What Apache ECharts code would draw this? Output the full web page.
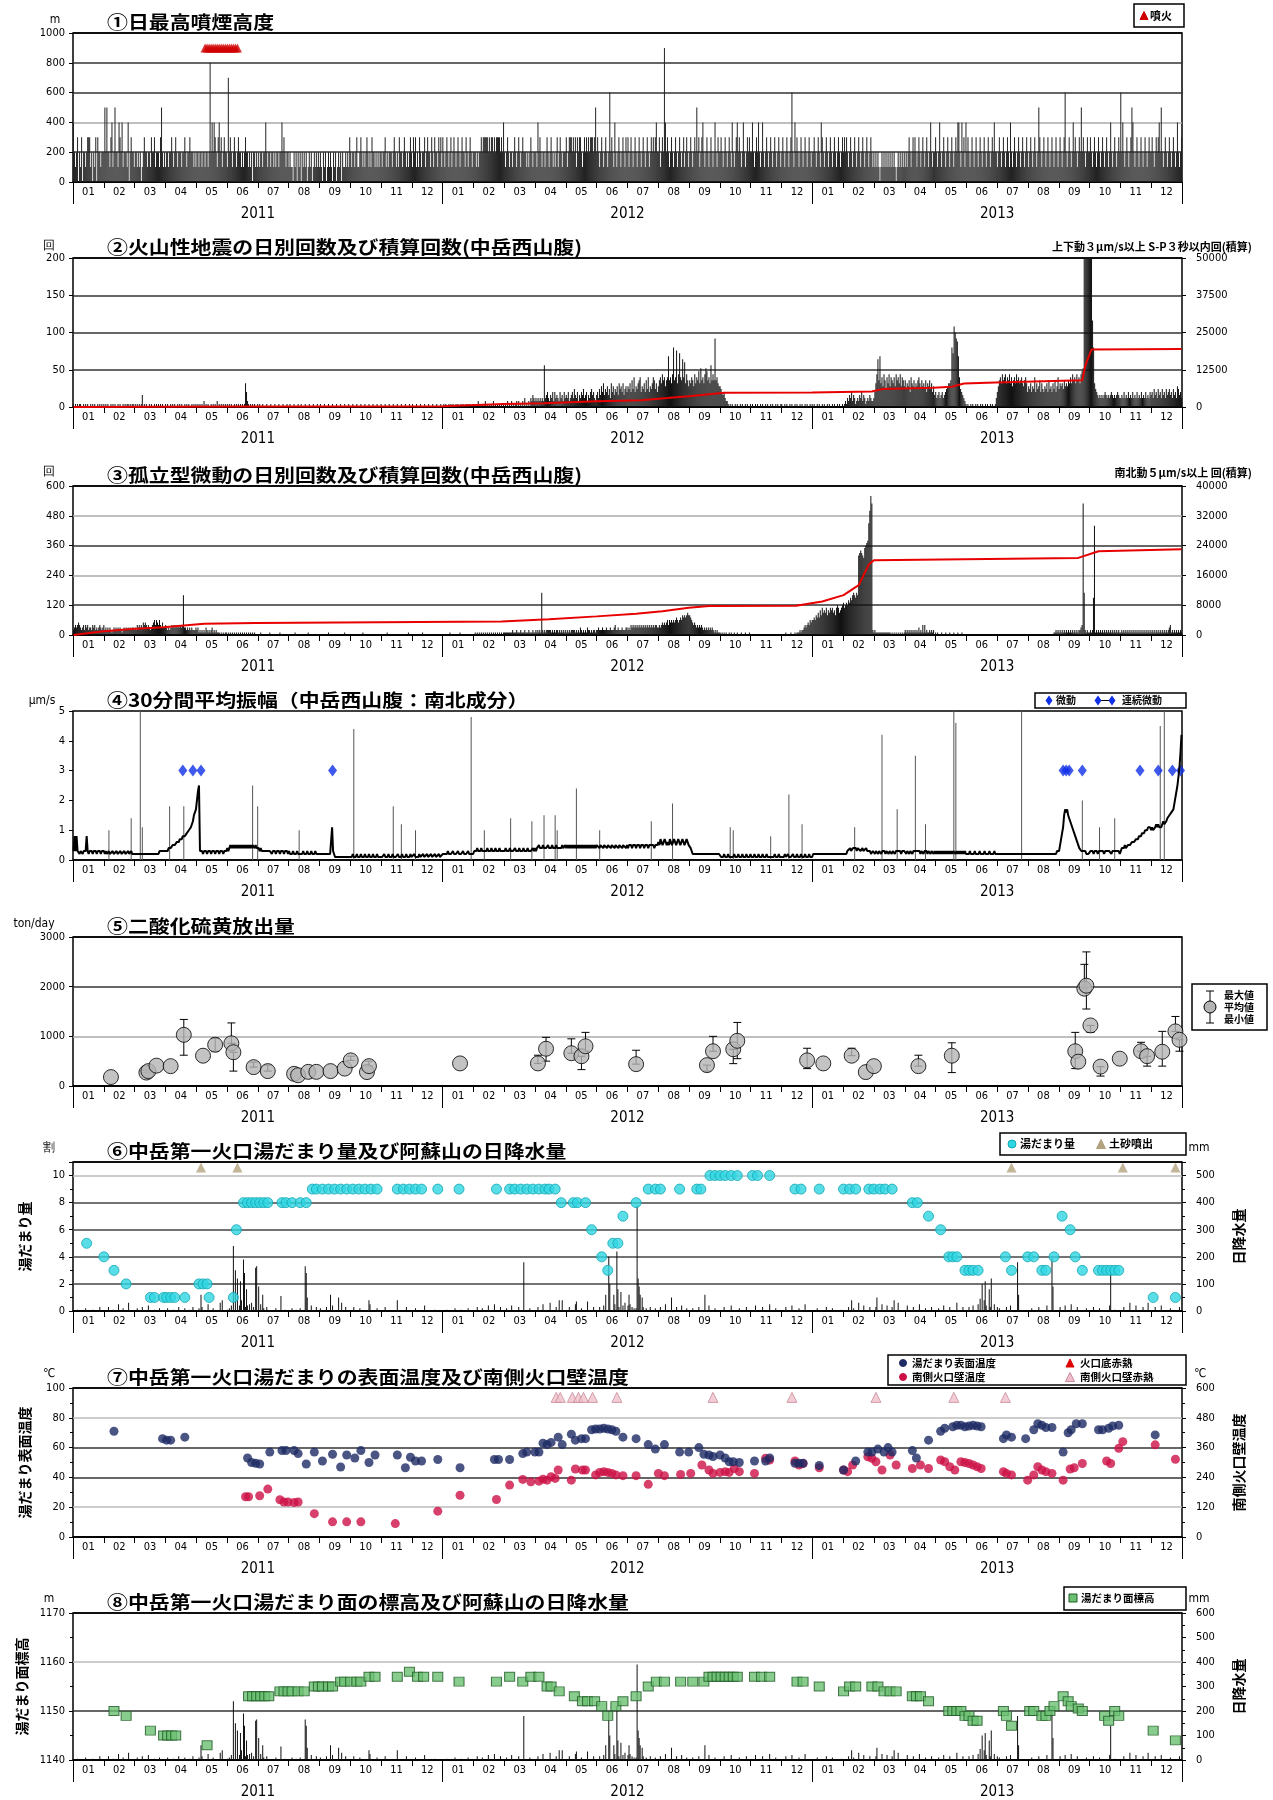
<!DOCTYPE html>
<html><head><meta charset="utf-8">
<script src="https://cdn.jsdelivr.net/npm/echarts/dist/echarts.min.js"></script>
<style>html,body{margin:0;padding:0;background:#fff}#c{width:1273px;height:1800px}</style>
</head><body><div id="c"></div>
<script>
// ---------- categories / tick labels ----------
const monthLabels = ['01','02','03','04','05','06','07','08','09','10','11','12'];
const yearLabels = ['2011','2012','2013'];

// ---------- daily series, one string per month (2011-01 .. 2013-12), one char per day ----------
// ① plume height, unit 100 m
const plumeHeight = [
"4212302130221233312021303221222","5252213412522143241222140232","2122121201232212213223122213521","212212232123212221223212232221",
"2122122122122128242432134231232","217232123212322121232212120221","2121221224212212212122122423212","2121102120212021212012120121212",
"121021201212102120121202112121","3212212311232121232121322121212","212231212221232121322123212123","2132312132122312322132132213231",
"3212321231232123212322132123212","22121223233333232332323333232","4212321221232123212322212123212","221423212212321232121231232122",
"2312333232313233212323232333235","232123212321262321421232123213","2312321232123212321232123232342","2312329423212321232123212312321",
"232123252312342123212321242132","2321232123214212342321242123232","242123242124212321232123212321","2321232123621423212321232123212",
"2321232143212321232123212321232","3232123212321232123212321232","1212121012121212121212101212121","2121232123232123212321232124212",
"2321242123212321232123244214231","423212321232123212321232123242","2123212321232142123212321232123","2123212321253212321232123212321",
"232123621232124232123252321232","2321232123212321232124212321232","624212321235421232123212321232","2321232342521232123212321242123"];
const eruptionDates = ["2011-05-11","2011-05-13","2011-05-15","2011-05-17","2011-05-19","2011-05-21","2011-05-23","2011-05-25","2011-05-27","2011-05-29","2011-05-31","2011-06-02","2011-06-04","2011-06-06","2011-06-08","2011-06-10","2011-06-12"];

// ② volcanic earthquakes per day, unit 4
const quakeDaily = [
"1010101100101010010101001010101","0101001010100101001010110101","1010101014010100101001010101010","010100101010010101001010100101",
"0101010102010100101010201010101","010101001010101010185210101010","0101001000100010001000100010001","0010001000100100010001000100010",
"010001000100010001000100010001","0001000100010001000100010001000","100010001000100010001000100010","0100010001000100010001000100010",
"0101001010100101001010010101001","10102010101201010102010101010","1010201020101202010203010203243","232323232e3453243525343253425",
"3435234536435243546345243564532","4536475846574638574657486758467","5768596a57689a5768596a5768a9685","79a8b9a79ah9a8bk9aj8bia9gaf8b97",
"98a97b8a9c8d9a8bdc9a8e9b9n9a87","7654532210101001010010100101001","010010100101001010010100101001","1001010010100101001010010100101",
"0100101001010010100101001010010","1213243524312324352431232432","2358bg9h8a7b96a8b7a98a7b9a8b7a9","7968795a8796879a869786958796857",
"4534534534567889kirpnmha65432","1010010100101001010010100101001","3579a8b9ab8a9b8a79a8b9a89a879a8","5768576a5867958657685967586957a",
"68786978798a8b9a8b9a8bcdZZZZZ","ZZZtk8654343434543434543434543","3435343534353435343534353435","4536453645364536456453645376453"];
const quakeCumDates = ["2011-01-01","2011-06-15","2012-01-01","2012-03-01","2012-04-10","2012-06-01","2012-07-15","2012-08-10","2012-08-31","2012-09-20","2012-10-05","2012-12-31","2013-02-28","2013-03-10","2013-04-30","2013-05-18","2013-05-30","2013-06-30","2013-09-24","2013-09-27","2013-10-03","2013-12-31"];
const quakeCum = [0,150,250,1000,1300,1900,2300,3000,3600,4300,4800,4900,5200,6000,6500,6800,7900,8200,9000,14000,19300,19500];

// ③ isolated tremor per day, unit 10
const tremorDaily = [
"2343454323424342332434232343234","2323232123232323212323232323","3232434343545434323456465464353","343232343434343434g3323232322",
"2323121212132121231212111010101","101010101010101010101010101010","0000100000000100000000010000000","0000000100000000000010000000000",
"000000000100000000000000010000","0000000000000100000000000000000","000000100000000000000000000100","0000000000010000000000000000000",
"0000000100000000010000000000000","01010101010101010101010101010","1111111112111211121112111211121","1212121h21212222212121221212121",
"2121212222121213212121322121221","2232223222322232223422322232223","3232434343434343434343434343443","3434545456465656567656768787898",
"8765454343434323232323232121211","1010101001010010010001000100010","000000000000000000000000000000","0000100001000101112122343454656",
"6768797a8b9a9b8a9bab9a8bcb9abcd","bcdcedfeghgfhgwxyxwvzABCJOUR","2121111111111111110101010101010","1212121212121213121414121121212",
"0101000100010001000100010001000","000000000000000000000000000000","0000000000000000000000000000000","0000000000000000000000000011212",
"12121212121212121212234Rh2121","1212fI1212121212121212121212121","121212121212121212121212121212","1212121212121212123412121212121"];
const tremorCumDates = ["2011-01-01","2011-01-31","2011-02-28","2011-03-31","2011-05-10","2011-06-30","2012-02-28","2012-04-15","2012-06-01","2012-07-10","2012-08-05","2012-08-31","2012-09-20","2012-12-15","2013-01-10","2013-01-31","2013-02-15","2013-02-25","2013-03-02","2013-09-20","2013-10-10","2013-12-31"];
const tremorCum = [0,1000,1600,2100,3000,3250,3600,4200,5000,5700,6400,7300,7800,7850,9000,10700,13400,18900,20100,20700,22500,23000];

// ④ 30-min mean amplitude: daily background level, unit 0.1 µm/s, plus short spikes
const amplitude = [
"3838332332333832333233323332333","23223222322232223222322232232","2222222222222222222222222233333","333344445555666777888899aabcdf",
"ghknp33323332333233323332333233","343454545454545454545454545545","4443433333333332333233323332333","2322232223222223222322232223222",
"2222222222222b32111111111111111","1112111211121112111211121112111","11121112111211112111211121112","11121111211121112111211121112111",
"2222232222322223222232222322222","33343334333334333433343334333","334333433334333433343334333343","434454445444454445444544444544",
"545454545454545454545454545454","55545554555455545554555455545554","5455545554555455545554555554555","657656765657656765676567656765",
"5432222222222222222222222222222","2111211121111121112111211121112","111211121112111211111112111211","1112112111121112111211121112111",
"2222222222222222222222222222222","222333433444434443343334333322","332332332333233233233233333233","332332332333333323323332332332",
"323232323232323232332323232323","2222322223222232222322223222232","2222222222222222222222222222222","2222222222222222222222222222233",
"3579bfhghfedcba987654433333222","233323332333332333333233333332","344454455556666777888999aaabbb","abaabcbcbbbcdccdeeffgghjlnpsvAG"];
const ampSpikeDates = ["2011-02-05","2011-02-27","2011-03-08","2011-03-10","2011-04-06","2011-04-20","2011-06-27","2011-07-02","2011-08-12","2011-10-05","2011-11-13","2011-11-21","2011-12-05",
"2012-01-29","2012-02-11","2012-03-08","2012-03-29","2012-04-10","2012-04-21","2012-04-23","2012-05-12","2012-06-04","2012-07-25","2012-08-15","2012-10-11","2012-10-14","2012-11-20","2012-12-08","2012-12-21",
"2013-02-11","2013-03-10","2013-03-25","2013-04-12","2013-04-22","2013-05-20","2013-05-22","2013-07-26","2013-09-24","2013-10-11","2013-10-26","2013-12-10","2013-12-14"];
const ampSpike = [1.0,1.4,5.0,1.1,1.8,1.8,2.5,1.8,1.0,4.4,1.8,1.2,1.0,
4.8,1.0,1.4,1.3,1.5,1.5,1.0,2.4,1.0,1.3,1.9,1.1,1.0,0.8,2.2,1.2,
1.1,4.2,1.7,3.5,1.2,5.0,4.6,5.0,2.0,1.1,1.4,4.5,5.0];
const tremorMarkDates = ["2011-04-19","2011-04-29","2011-05-07","2011-09-14","2013-09-05","2013-09-08","2013-09-11","2013-09-24","2013-11-20","2013-12-08","2013-12-22","2013-12-30"];

// ⑤ SO2 emission (ton/day)
const so2Dates = ["2011-02-07","2011-03-14","2011-03-16","2011-03-24","2011-04-07","2011-04-20","2011-05-09","2011-05-21","2011-06-06","2011-06-08","2011-06-28","2011-07-12","2011-08-07","2011-08-11","2011-08-21","2011-08-29","2011-09-12","2011-09-26","2011-10-02","2011-10-18","2011-10-20",
"2012-01-18","2012-04-04","2012-04-12","2012-05-07","2012-05-17","2012-05-21","2012-07-10","2012-09-18","2012-09-24","2012-10-14","2012-10-18","2012-12-26",
"2013-01-11","2013-02-08","2013-02-22","2013-03-02","2013-04-15","2013-05-18","2013-09-17","2013-09-20","2013-09-26","2013-09-28","2013-10-02","2013-10-12","2013-10-31","2013-11-21","2013-11-27","2013-12-12","2013-12-25","2013-12-29"];
const so2Mean = [180,270,300,410,400,1030,610,830,860,680,380,300,245,217,285,285,300,350,516,280,400,
455,455,750,660,600,800,440,420,700,740,910,516,
455,610,280,400,400,610,700,490,1960,2020,1220,390,550,700,600,690,1100,930];
const so2Min = [null,null,null,null,null,620,null,700,null,300,null,null,null,null,null,null,null,null,null,null,null,
null,null,500,null,330,700,null,300,null,450,550,350,
null,null,null,null,null,270,350,null,null,1550,1080,200,null,null,400,400,null,700];
const so2Max = [null,320,null,null,null,1340,null,960,1270,null,480,420,null,null,null,null,null,null,600,null,500,
null,620,980,950,null,1080,720,null,1000,null,1280,760,
null,760,null,null,620,870,1080,null,2450,2700,null,null,null,880,null,1100,1400,null];

// ⑥ crater lake volume (割) and mud ejection
const lakeVolDates = ["2011-01-14","2011-01-31","2011-02-10","2011-02-22","2011-03-18","2011-03-22","2011-03-31","2011-04-03","2011-04-07","2011-04-11","2011-04-21","2011-05-05","2011-05-09","2011-05-13","2011-05-15","2011-06-08","2011-06-11","2011-06-18","2011-06-22","2011-06-26","2011-06-30","2011-07-04","2011-07-08","2011-07-12","2011-07-26","2011-07-30","2011-08-05","2011-08-13","2011-08-19","2011-08-25","2011-08-29","2011-09-04","2011-09-10","2011-09-16","2011-09-22","2011-09-28","2011-10-04","2011-10-10","2011-10-16","2011-10-22","2011-10-28","2011-11-17","2011-11-23","2011-11-29","2011-12-05","2011-12-11","2011-12-27",
"2012-01-17","2012-02-23","2012-03-07","2012-03-12","2012-03-18","2012-03-24","2012-03-30","2012-04-05","2012-04-11","2012-04-15","2012-04-21","2012-04-27","2012-05-09","2012-05-13","2012-05-21","2012-05-27","2012-06-06","2012-06-12","2012-06-17","2012-06-22","2012-06-27","2012-07-10","2012-07-22","2012-07-29","2012-08-03","2012-08-22","2012-09-08","2012-09-12","2012-09-21","2012-09-26","2012-10-01","2012-10-06","2012-10-12","2012-10-18","2012-11-02","2012-11-07","2012-11-19","2012-12-14","2012-12-20",
"2013-01-07","2013-01-31","2013-02-06","2013-02-12","2013-02-25","2013-03-02","2013-03-08","2013-03-13","2013-03-20","2013-04-09","2013-04-14","2013-04-25","2013-05-07","2013-05-15","2013-05-19","2013-05-23","2013-05-31","2013-06-04","2013-06-08","2013-06-13","2013-07-10","2013-07-16","2013-08-01","2013-08-07","2013-08-15","2013-08-19","2013-08-27","2013-09-04","2013-09-12","2013-09-17","2013-09-24","2013-10-10","2013-10-14","2013-10-18","2013-10-22","2013-10-26","2013-10-30","2013-12-03","2013-12-25"];
const lakeVol = [5,4,3,2,1,1,1,1,1,1,1,2,2,2,1,1,6,8,8,8,8,8,8,8,8,8,8,8,8,9,9,9,9,9,9,9,9,9,9,9,9,9,9,9,9,9,9,
9,9,9,9,9,9,9,9,9,9,9,8,8,8,8,6,4,3,5,5,7,8,9,9,9,9,9,9,10,10,10,10,10,10,10,10,10,9,9,
9,9,9,9,9,9,9,9,9,8,8,7,6,4,4,4,3,3,3,3,4,3,4,4,3,3,4,7,6,4,3,3,3,3,3,3,3,1,1];
const mudEjectDates = ["2011-05-07","2011-06-12","2013-07-16","2013-11-03","2013-12-25"];

// daily precipitation at Aso (mm): small rain, unit 5 mm, plus heavy-rain days
const rainSmall = [
"0000100000002000000100000030000","0000300001000005000020000060000","0000200003000004000001000020000","000200000100003000002000010030",
"0000200300000500002000000608000","010204030506040802030405060305","3040500200300000000200000000100","0000200010002000003000040000300",
"020000030000040000000060003000","0000300000200000000050000002000","000030000000000080000000030000","0000200000000400000000010000000",
"0000100000002000001000000200000","00030000200000400000500000300","0002000040000003000050000020000","000300005000000600000300000800",
"0000300000500000200000700000300","000300040000300000506030804060","0405030202040000300200030000200","0030000500000800003000040000200",
"000200000300000000040000020000","0000300000040000000200000030000","000040000003000000500000200000","0000300000400000020000050000000",
"0000200000000300000200000000100","0000300002000060000400000300","0003000005000040000300000600000","000400000300000500000200000300",
"0000200004000003000000600000300","000300040000509060804000300050","0302000000300040000000200000000","0000200000030000000400000300000",
"030000400000500000300000000200","0000300000200000000040000100000","000300000500000400000030000600","0000300000400000000200000000300"];
const rainHeavyDates = ["2011-05-07","2011-06-08","2011-06-10","2011-06-12","2011-06-15","2011-06-18","2011-06-19","2011-06-21","2011-06-30","2011-07-01","2011-07-03","2011-07-07","2011-07-25","2011-08-18","2011-08-19","2011-08-20","2011-09-12","2011-09-20","2011-10-20","2011-11-17",
"2012-03-21","2012-04-25","2012-05-12","2012-06-10","2012-06-13","2012-06-14","2012-06-18","2012-06-21","2012-06-22","2012-06-25","2012-07-03","2012-07-11","2012-07-12","2012-07-13","2012-07-14","2012-07-16","2012-08-14","2012-09-16",
"2013-02-08","2013-03-05","2013-03-22","2013-06-17","2013-06-20","2013-06-24","2013-06-26","2013-07-22","2013-07-23","2013-08-25","2013-08-26","2013-10-22","2013-11-10"];
const rainHeavy = [60,240,150,120,110,190,140,80,160,165,90,60,55,165,140,50,60,50,40,40,
180,40,35,60,200,100,60,220,80,70,60,390,120,90,60,50,50,60,
40,50,40,100,110,80,120,180,60,195,90,140,30];

// ⑦ surface temperature (℃) and south crater wall temperature (℃)
const surfTempDates = ["2011-02-10","2011-03-30","2011-04-03","2011-04-07","2011-04-21","2011-06-22","2011-06-26","2011-06-30","2011-07-04","2011-07-14","2011-07-26","2011-07-30","2011-08-07","2011-08-11","2011-08-19","2011-08-27","2011-09-04","2011-09-14","2011-09-22","2011-09-28","2011-10-06","2011-10-12","2011-10-20","2011-10-26","2011-11-17","2011-11-25","2011-11-30","2011-12-05","2011-12-11","2011-12-27",
"2012-01-18","2012-02-21","2012-02-25","2012-03-07","2012-03-20","2012-03-24","2012-04-01","2012-04-05","2012-04-09","2012-04-13","2012-04-17","2012-04-24","2012-04-28","2012-05-07","2012-05-11","2012-05-17","2012-05-21","2012-05-27","2012-05-31","2012-06-04","2012-06-08","2012-06-12","2012-06-16","2012-06-20","2012-06-27","2012-07-10","2012-07-22","2012-07-29","2012-08-07","2012-08-22","2012-08-31","2012-09-10","2012-09-15","2012-09-20","2012-09-24","2012-10-01","2012-10-06","2012-10-10","2012-10-14","2012-10-20","2012-11-04","2012-11-15","2012-11-19","2012-12-14","2012-12-18","2012-12-22",
"2013-01-07","2013-01-31","2013-02-12","2013-02-24","2013-02-28","2013-03-06","2013-03-12","2013-03-16","2013-03-20","2013-04-09","2013-04-13","2013-04-25","2013-05-07","2013-05-11","2013-05-19","2013-05-23","2013-05-27","2013-05-31","2013-06-04","2013-06-08","2013-06-12","2013-06-16","2013-07-08","2013-07-11","2013-07-16","2013-07-30","2013-08-07","2013-08-11","2013-08-15","2013-08-19","2013-08-25","2013-09-05","2013-09-10","2013-09-13","2013-09-18","2013-09-24","2013-10-10","2013-10-14","2013-10-20","2013-10-24","2013-10-30","2013-12-05"];
const surfTemp = [71,66,65,65,67,53,50,49.5,49,57,58,58,58,56,49,57,51,55.5,47,55,53,58,50,55,55,46.5,53.5,51,51,52,
46.5,52,52,52,56,57,57,57,63,62,63.5,67,62,69,65,66,66,72,72.5,72.5,73,72.5,72,71,67,66,62,59,62,57,57,60,55.5,55,54,55,53,50.5,50.5,50,51,51,53,49.5,49.5,49.5,
48,45,51,57,57,59,57,60,57,58,53,65,71,73,74,75,75,74,74.5,75,74.5,74,66,68.5,67,66,72,76,75,73.5,73.5,57,70,72,76,76,72,72,73,74.5,75,68.5];
const wallTempDates = ["2011-06-20","2011-06-23","2011-07-04","2011-07-12","2011-07-24","2011-07-28","2011-08-01","2011-08-07","2011-08-11","2011-08-27","2011-09-14","2011-09-28","2011-10-12","2011-11-15","2011-12-27",
"2012-01-18","2012-02-23","2012-03-07","2012-03-20","2012-03-28","2012-04-05","2012-04-09","2012-04-13","2012-04-17","2012-04-21","2012-04-24","2012-05-07","2012-05-11","2012-05-18","2012-05-21","2012-05-31","2012-06-04","2012-06-08","2012-06-12","2012-06-16","2012-06-20","2012-06-27","2012-07-10","2012-07-22","2012-08-01","2012-08-07","2012-08-23","2012-09-02","2012-09-13","2012-09-20","2012-09-24","2012-10-01","2012-10-06","2012-10-10","2012-10-15","2012-10-20","2012-11-04","2012-11-15","2012-11-19","2012-12-14","2012-12-18","2012-12-22",
"2013-01-07","2013-01-31","2013-02-04","2013-02-09","2013-02-24","2013-02-28","2013-03-04","2013-03-10","2013-03-18","2013-03-24","2013-04-09","2013-04-17","2013-04-25","2013-05-07","2013-05-11","2013-05-16","2013-05-21","2013-05-27","2013-05-31","2013-06-04","2013-06-08","2013-06-12","2013-06-16","2013-07-08","2013-07-11","2013-07-16","2013-08-01","2013-08-07","2013-08-11","2013-08-15","2013-08-19","2013-08-25","2013-09-05","2013-09-12","2013-09-16","2013-09-24","2013-10-18","2013-10-22","2013-10-30","2013-11-03","2013-12-05","2013-12-25"];
const wallTemp = [162,162,166,193,150,141,141,139,141,94,61,61,61,54,104,
168,151,209,232,222,225,233,229,243,236,270,229,274,270,270,250,260,263,260,256,250,247,247,212,256,247,252,256,290,270,256,260,263,260,276,263,256,317,310,306,290,296,
279,270,263,290,323,317,303,270,330,290,276,290,276,310,303,283,270,303,300,296,290,283,276,263,256,250,229,250,283,270,263,256,229,274,279,296,306,296,357,384,371,313];
const wallGlowDates = ["2012-04-22","2012-04-26","2012-05-08","2012-05-14","2012-05-19","2012-05-28","2012-06-21","2012-09-24","2012-12-11","2013-03-04","2013-05-20","2013-07-10"];

// ⑧ crater lake surface elevation (m)
const lakeLevelDates = ["2011-02-10","2011-02-22","2011-03-18","2011-03-31","2011-04-04","2011-04-08","2011-04-12","2011-05-13","2011-06-23","2011-06-27","2011-07-01","2011-07-05","2011-07-09","2011-07-13","2011-07-24","2011-07-28","2011-08-01","2011-08-05","2011-08-11","2011-08-17","2011-08-27","2011-08-31","2011-09-04","2011-09-10","2011-09-14","2011-09-22","2011-09-26","2011-10-02","2011-10-08","2011-10-12","2011-10-20","2011-10-26","2011-11-17","2011-11-29","2011-12-07","2011-12-13","2011-12-27",
"2012-01-17","2012-02-23","2012-03-07","2012-03-20","2012-03-28","2012-04-05","2012-04-13","2012-04-17","2012-04-25","2012-05-10","2012-05-18","2012-05-23","2012-05-30","2012-06-06","2012-06-12","2012-06-20","2012-06-27","2012-07-10","2012-07-22","2012-07-30","2012-08-07","2012-08-23","2012-09-04","2012-09-15","2012-09-20","2012-09-24","2012-09-28","2012-10-02","2012-10-06","2012-10-10","2012-10-14","2012-10-18","2012-11-04","2012-11-11","2012-11-19","2012-12-16","2012-12-22",
"2013-01-07","2013-01-31","2013-02-06","2013-02-12","2013-02-28","2013-03-06","2013-03-12","2013-03-18","2013-03-24","2013-04-09","2013-04-13","2013-04-17","2013-04-25","2013-05-15","2013-05-19","2013-05-23","2013-05-27","2013-05-31","2013-06-04","2013-06-08","2013-06-12","2013-07-08","2013-07-11","2013-07-16","2013-08-03","2013-08-07","2013-08-15","2013-08-19","2013-08-23","2013-08-27","2013-09-05","2013-09-10","2013-09-13","2013-09-20","2013-09-24","2013-10-16","2013-10-20","2013-10-26","2013-10-30","2013-12-03","2013-12-25"];
const lakeLevel = [1150,1149,1146,1145,1145,1145,1145,1143,1153,1153,1153,1153,1153,1153,1154,1154,1154,1154,1154,1154,1155,1155,1155,1155,1155,1156,1156,1156,1156,1156,1157,1157,1157,1158,1157,1157,1157,
1156,1156,1157,1156,1157,1157,1155,1155,1154,1153,1152,1152,1152,1151,1149,1151,1152,1153,1155,1156,1156,1156,1156,1156,1157,1157,1157,1157,1157,1157,1157,1157,1157,1157,1157,1156,1156,
1155,1154,1155,1155,1155,1155,1154,1154,1154,1153,1153,1153,1152,1150,1150,1150,1150,1149,1149,1148,1148,1150,1149,1147,1150,1150,1149,1149,1150,1151,1153,1152,1151,1150.5,1150,1149,1148,1150,1149,1146,1144];

// ---------- helpers ----------
const ALPH = '0123456789abcdefghijklmnopqrstuvwxyzABCDEFGHIJKLMNOPQRSTUVWXYZ';
const T0 = Date.UTC(2011,0,1), DAY = 864e5;
function dayOf(s){const p=s.split('-').map(Number);return (Date.UTC(p[0],p[1]-1,p[2])-T0)/DAY+0.5;}
function decodeMonths(strs,unit){
  const out=[];
  strs.forEach((s,mi)=>{const y=2011+Math.floor(mi/12),m=mi%12;
    const a=(Date.UTC(y,m,1)-T0)/DAY,b=(Date.UTC(y,m+1,1)-T0)/DAY;
    for(let i=0;i<s.length;i++) out.push([a+(i+0.5)*(b-a)/s.length, Math.round(ALPH.indexOf(s[i])*unit*100)/100]);});
  return out;
}
function pts(dates,vals){return dates.map((d,i)=>[dayOf(d),vals[i]]);}
function marks(dates,v){return dates.map(d=>[dayOf(d),v]);}

const rainData = decodeMonths(rainSmall,5);
rainHeavyDates.forEach((d,k)=>{const x=dayOf(d);let best=0;
  rainData.forEach((p,i)=>{if(Math.abs(p[0]-x)<Math.abs(rainData[best][0]-x))best=i;});
  rainData[best][1]=rainHeavy[k];});

const FN='"Liberation Sans Narrow","DejaVu Sans Condensed","Liberation Sans",sans-serif';
const FJ='"Noto Sans CJK JP","Noto Sans",sans-serif';
const TOPS=[33,258,486,711,937,1162,1388,1613], H=149, LEFT=73, RIGHT=91;
const months36 = monthLabels.concat(monthLabels, monthLabels);

const grid = TOPS.map(t=>({left:LEFT,right:RIGHT,top:t,height:H,show:true,borderColor:'#000',borderWidth:1.5}));
const xAxis=[];
TOPS.forEach((t,i)=>{
  xAxis.push({gridIndex:i,type:'value',min:0,max:1096,show:false});
  xAxis.push({gridIndex:i,type:'category',data:months36,position:'bottom',boundaryGap:true,
    axisLine:{onZero:false,lineStyle:{color:'#000',width:1.5}},axisTick:{show:true,interval:0,length:6,lineStyle:{color:'#000'}},
    axisLabel:{interval:0,fontSize:11,margin:5,color:'#000',fontFamily:FN},splitLine:{show:false}});
  xAxis.push({gridIndex:i,type:'category',data:yearLabels,position:'bottom',boundaryGap:true,
    axisLine:{show:false,onZero:false},axisTick:{show:true,interval:0,length:22,lineStyle:{color:'#000'}},
    axisLabel:{interval:0,fontSize:15,margin:25,color:'#000',fontFamily:FN},splitLine:{show:false}});
});
const yAxis=[], Y={};
function addY(key,gi,pos,min,max,interval,o){
  o=o||{}; Y[key]=yAxis.length;
  yAxis.push({gridIndex:gi,type:'value',position:pos,min:min,max:max,interval:interval,
    name:o.name||'',nameLocation:'middle',nameRotate:90,nameGap:pos==='left'?41:50,
    nameTextStyle:{fontFamily:FJ,fontSize:14,fontWeight:'bold',color:'#000'},
    axisLine:{show:false},axisTick:{show:true,length:4,lineStyle:{color:'#000'}},
    minorTick:{show:!!o.minor,splitNumber:2,length:3,lineStyle:{color:'#000'}},
    axisLabel:{fontSize:11,color:'#000',fontFamily:FN,margin:pos==='left'?8:14,showMaxLabel:o.hideMax?false:null,
      formatter:function(v){return String(v);}},
    splitLine:o.split?{show:true,lineStyle:{color:o.split,width:1.5}}:{show:false}});
}
addY('p1',0,'left',0,1000,200,{split:['#000','#333','#aaa','#333','#333','#000']});
addY('p2',1,'left',0,200,50,{split:['#000','#333','#333','#333','#000']});
addY('p2r',1,'right',0,50000,12500);
addY('p3',2,'left',0,600,120,{split:['#000','#333','#aaa','#333','#aaa','#000']});
addY('p3r',2,'right',0,40000,8000);
addY('p4',3,'left',0,5,1);
addY('p5',4,'left',0,3000,1000,{split:['#000','#aaa','#333','#000']});
addY('p6',5,'left',0,11,2,{split:['#000','#444','#444','#444','#444','#bbb','#000'],name:'湯だまり量',hideMax:true,minor:true});
addY('p6r',5,'right',0,550,100,{name:'日降水量',hideMax:true,minor:true});
addY('p7',6,'left',0,100,20,{split:['#000','#bbb','#333','#333','#bbb','#000'],name:'湯だまり表面温度',minor:true});
addY('p7r',6,'right',0,600,120,{name:'南側火口壁温度',minor:true});
addY('p8',7,'left',1140,1170,10,{split:['#000','#333','#bbb','#000'],name:'湯だまり面標高',minor:true});
addY('p8r',7,'right',0,600,100,{name:'日降水量',minor:true});

const so2Err = so2Dates.map((d,i)=>[dayOf(d), so2Min[i]==null?so2Mean[i]:so2Min[i], so2Max[i]==null?so2Mean[i]:so2Max[i]])
  .filter(p=>p[1]!==p[2]);

const series=[
  {type:'bar',xAxisIndex:0,yAxisIndex:Y.p1,data:decodeMonths(plumeHeight,100),barWidth:1,itemStyle:{color:'#222'}},
  {type:'scatter',xAxisIndex:0,yAxisIndex:Y.p1,data:marks(eruptionDates,900),symbol:'triangle',symbolSize:9,itemStyle:{color:'#d00000'}},

  {type:'bar',xAxisIndex:3,yAxisIndex:Y.p2,data:decodeMonths(quakeDaily,4),barWidth:1,itemStyle:{color:'#111'}},
  {type:'line',xAxisIndex:3,yAxisIndex:Y.p2r,data:pts(quakeCumDates,quakeCum),showSymbol:false,lineStyle:{color:'#e80000',width:2}},

  {type:'bar',xAxisIndex:6,yAxisIndex:Y.p3,data:decodeMonths(tremorDaily,10),barWidth:1,itemStyle:{color:'#111'}},
  {type:'line',xAxisIndex:6,yAxisIndex:Y.p3r,data:pts(tremorCumDates,tremorCum),showSymbol:false,lineStyle:{color:'#e80000',width:2}},

  {type:'bar',xAxisIndex:9,yAxisIndex:Y.p4,data:pts(ampSpikeDates,ampSpike),barWidth:1,itemStyle:{color:'#555'}},
  {type:'line',xAxisIndex:9,yAxisIndex:Y.p4,data:decodeMonths(amplitude,0.1),showSymbol:false,lineStyle:{color:'#000',width:2}},
  {type:'scatter',xAxisIndex:9,yAxisIndex:Y.p4,data:marks(tremorMarkDates,3),symbol:'diamond',symbolSize:[9,12],itemStyle:{color:'#1030e8'}},

  {type:'custom',xAxisIndex:12,yAxisIndex:Y.p5,data:so2Err,encode:{x:0,y:[1,2]},renderItem:function(params,api){
    const x=api.value(0),a=api.coord([x,api.value(1)]),b=api.coord([x,api.value(2)]),c=4,st={stroke:'#000',lineWidth:1};
    return {type:'group',children:[
      {type:'line',shape:{x1:a[0],y1:a[1],x2:b[0],y2:b[1]},style:st},
      {type:'line',shape:{x1:a[0]-c,y1:a[1],x2:a[0]+c,y2:a[1]},style:st},
      {type:'line',shape:{x1:b[0]-c,y1:b[1],x2:b[0]+c,y2:b[1]},style:st}]};}},
  {type:'scatter',xAxisIndex:12,yAxisIndex:Y.p5,data:pts(so2Dates,so2Mean),symbolSize:15,itemStyle:{color:'#b4b4b4',borderColor:'#000',borderWidth:1}},

  {type:'bar',xAxisIndex:15,yAxisIndex:Y.p6r,data:rainData,barWidth:1,itemStyle:{color:'#111'}},
  {type:'scatter',xAxisIndex:15,yAxisIndex:Y.p6,data:pts(lakeVolDates,lakeVol),symbolSize:10,itemStyle:{color:'#2fd6e2',borderColor:'#12a7b4',borderWidth:1}},
  {type:'scatter',xAxisIndex:15,yAxisIndex:Y.p6,data:marks(mudEjectDates,10.6),symbol:'triangle',symbolSize:10,itemStyle:{color:'#b3a27e'}},

  {type:'scatter',xAxisIndex:18,yAxisIndex:Y.p7,data:marks(wallGlowDates,93.7),symbol:'triangle',symbolSize:10,itemStyle:{color:'#efc0cb',borderColor:'#c98a9a',borderWidth:1}},
  {type:'scatter',xAxisIndex:18,yAxisIndex:Y.p7r,data:pts(wallTempDates,wallTemp),symbolSize:9,itemStyle:{color:'#cc1046'}},
  {type:'scatter',xAxisIndex:18,yAxisIndex:Y.p7,data:pts(surfTempDates,surfTemp),symbolSize:9,itemStyle:{color:'#1d2a64'}},

  {type:'bar',xAxisIndex:21,yAxisIndex:Y.p8r,data:rainData,barWidth:1,itemStyle:{color:'#111'}},
  {type:'scatter',xAxisIndex:21,yAxisIndex:Y.p8,data:pts(lakeLevelDates,lakeLevel),symbol:'rect',symbolSize:[10,9],itemStyle:{color:'#6cc072',borderColor:'#1f5a25',borderWidth:1}}
];

// ---------- titles, units and legends ----------
const g=[];
function txt(x,y,t,size,o,sx){g.push({type:'text',x:x,y:y,z:100,silent:true,scaleX:sx||1,style:Object.assign({text:t,fontSize:size,fontFamily:FJ,fill:'#000',align:'left',verticalAlign:'middle'},o||{})});}
function box(x,y,w,h){g.push({type:'rect',z:99,silent:true,shape:{x:x,y:y,width:w,height:h},style:{fill:'#fff',stroke:'#000',lineWidth:1.5}});}
function tri(x,y,s,fill,stroke){g.push({type:'polygon',z:101,silent:true,shape:{points:[[x,y-s/2],[x-s/2,y+s/2],[x+s/2,y+s/2]]},style:{fill:fill,stroke:stroke||fill,lineWidth:1}});}
function dia(x,y,w,h,fill){g.push({type:'polygon',z:101,silent:true,shape:{points:[[x,y-h/2],[x+w/2,y],[x,y+h/2],[x-w/2,y]]},style:{fill:fill}});}
function dot(x,y,r,fill,stroke){g.push({type:'circle',z:101,silent:true,shape:{cx:x,cy:y,r:r},style:{fill:fill,stroke:stroke||fill,lineWidth:1}});}
function seg(x1,y1,x2,y2){g.push({type:'line',z:101,silent:true,shape:{x1:x1,y1:y1,x2:x2,y2:y2},style:{stroke:'#000',lineWidth:1}});}

const titles=['①日最高噴煙高度','②火山性地震の日別回数及び積算回数(中岳西山腹)','③孤立型微動の日別回数及び積算回数(中岳西山腹)','④30分間平均振幅（中岳西山腹：南北成分）',
  '⑤二酸化硫黄放出量','⑥中岳第一火口湯だまり量及び阿蘇山の日降水量','⑦中岳第一火口湯だまりの表面温度及び南側火口壁温度','⑧中岳第一火口湯だまり面の標高及び阿蘇山の日降水量'];
titles.forEach((t,i)=>txt(107,TOPS[i]-11,t,18,{fontWeight:'bold'},1.16));
const units=[['m',55,20],['回',49,246],['回',49,472],['μm/s',42,701],['ton/day',34,924],['割',49,1148],['℃',49,1374],['m',49,1599]];
units.forEach(u=>txt(u[1],u[2],u[0],12,{align:'center',fontFamily:FN}));
txt(1200,1374,'℃',12,{align:'center',fontFamily:FN});
txt(1199,1148,'mm',12,{align:'center',fontFamily:FN});
txt(1199,1599,'mm',12,{align:'center',fontFamily:FN});

// ① legend
box(1134,4,50,23); tri(1144,15.5,8,'#d00000'); txt(1150,15.5,'噴火',11,{fontWeight:'bold'});
// ② ③ notes
txt(1252,247,'上下動３μm/s以上 S-P３秒以内回(積算)',11,{align:'right',fontWeight:'bold'});
txt(1252,473,'南北動５μm/s以上 回(積算)',11,{align:'right',fontWeight:'bold'});
// ④ legend
box(1035,693,151,15); dia(1049,700.5,7,10,'#1030e8'); txt(1056,700.5,'微動',10,{fontWeight:'bold'});
seg(1098,700.5,1112,700.5); dia(1098,700.5,7,10,'#1030e8'); dia(1112,700.5,7,10,'#1030e8'); txt(1122,700.5,'連続微動',10,{fontWeight:'bold'});
// ⑤ legend
box(1192,984,75,46); seg(1210,991,1210,1023); seg(1206,991,1214,991); seg(1206,1023,1214,1023); dot(1210,1007,6,'#b4b4b4','#000');
txt(1224,995,'最大値',10,{fontWeight:'bold'}); txt(1224,1007,'平均値',10,{fontWeight:'bold'}); txt(1224,1019,'最小値',10,{fontWeight:'bold'});
// ⑥ legend
box(1000,1133,186,22); dot(1012,1144,4,'#2fd6e2','#12a7b4'); txt(1020,1144,'湯だまり量',11,{fontWeight:'bold'});
tri(1101,1144,9,'#b3a27e'); txt(1109,1144,'土砂噴出',11,{fontWeight:'bold'});
// ⑦ legend
box(888,1355,298,30); dot(903,1363,3.5,'#1d2a64'); txt(912,1363,'湯だまり表面温度',10.5,{fontWeight:'bold'});
tri(1070,1363,8,'#e00000'); txt(1080,1363,'火口底赤熱',10.5,{fontWeight:'bold'});
dot(903,1377,3.5,'#cc1046'); txt(912,1377,'南側火口壁温度',10.5,{fontWeight:'bold'});
tri(1070,1377,9,'#efc0cb','#c98a9a'); txt(1080,1377,'南側火口壁赤熱',10.5,{fontWeight:'bold'});
// ⑧ legend
box(1064,1587,122,23); g.push({type:'rect',z:101,silent:true,shape:{x:1069,y:1594,width:8,height:8},style:{fill:'#6cc072',stroke:'#1f5a25',lineWidth:1}});
txt(1081,1598.5,'湯だまり面標高',10.5,{fontWeight:'bold'});

const chart = echarts.init(document.getElementById('c'),null,{renderer:'canvas'});
chart.setOption({animation:false,backgroundColor:'#fff',textStyle:{fontFamily:FJ},grid:grid,xAxis:xAxis,yAxis:yAxis,series:series,graphic:g});
</script></body></html>
